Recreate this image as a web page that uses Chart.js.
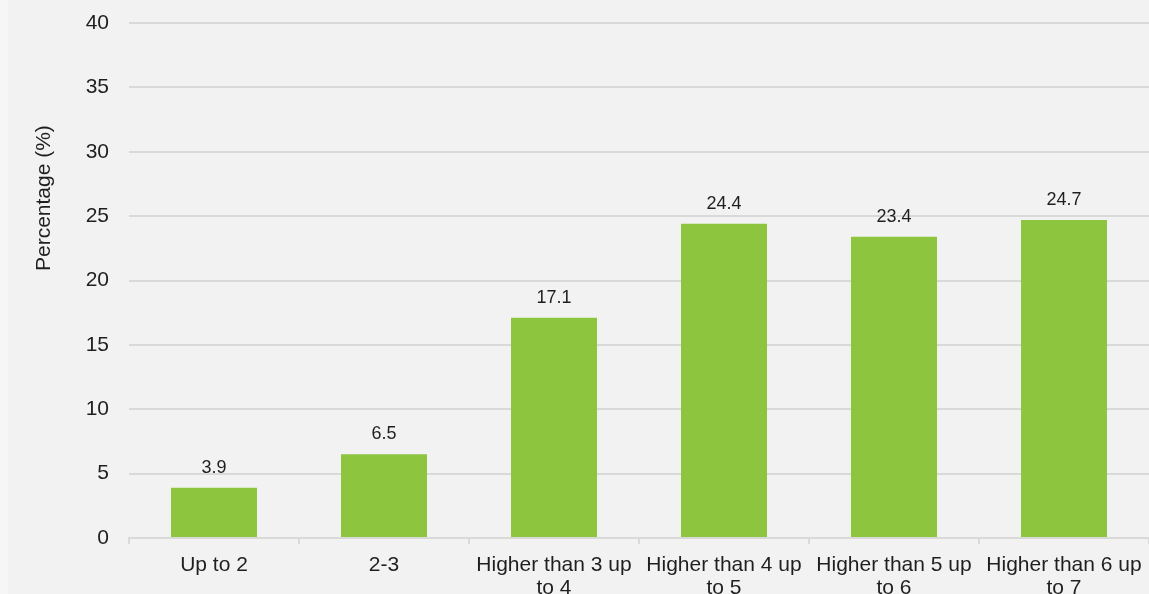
<!DOCTYPE html>
<html lang="en">
<head>
    <meta charset="UTF-8">
    <title>Percentage by category</title>
    <script src="https://cdn.jsdelivr.net/npm/chart.js@4.4.0/dist/chart.umd.min.js"></script>
    <style>
        html, body {
            margin: 0;
            padding: 0;
            background: #f6f6f6;
            overflow: hidden;
        }
        .wrap {
            position: absolute;
            left: 8px;
            top: 0;
            width: 1141px;
            height: 594px;
            background: #f2f2f2;
        }
    </style>
</head>
<body>
    <div class="wrap">
        <canvas id="chart"></canvas>
    </div>

    <script>
        const categories = [
            'Up to 2',
            '2-3',
            ['Higher than 3 up', 'to 4'],
            ['Higher than 4 up', 'to 5'],
            ['Higher than 5 up', 'to 6'],
            ['Higher than 6 up', 'to 7']
        ];
        const percentages = [3.9, 6.5, 17.1, 24.4, 23.4, 24.7];
        const yTicks = [0, 5, 10, 15, 20, 25, 30, 35, 40];

        const FONT = "Arial, 'Liberation Sans', sans-serif";
        const TEXT = '#1f1f1f';
        const GRID = '#d9d9d9';

        // value labels above each bar
        const barLabels = {
            id: 'barLabels',
            afterDatasetsDraw(chart) {
                const ctx = chart.ctx;
                const meta = chart.getDatasetMeta(0);
                ctx.save();
                ctx.font = '18px ' + FONT;
                ctx.fillStyle = TEXT;
                ctx.textAlign = 'center';
                ctx.textBaseline = 'middle';
                meta.data.forEach((bar, i) => {
                    ctx.fillText(percentages[i].toFixed(1), bar.x, bar.y - 20);
                });
                ctx.restore();
            }
        };

        // rotated y axis title, sits above the middle of the axis
        const yTitle = {
            id: 'yTitle',
            afterDraw(chart) {
                const ctx = chart.ctx;
                const area = chart.chartArea;
                ctx.save();
                ctx.translate(36, area.top + (area.bottom - area.top) * 0.34);
                ctx.rotate(-Math.PI / 2);
                ctx.font = '21px ' + FONT;
                ctx.fillStyle = TEXT;
                ctx.textAlign = 'center';
                ctx.textBaseline = 'middle';
                ctx.fillText('Percentage (%)', 0, 0);
                ctx.restore();
            }
        };

        new Chart(document.getElementById('chart'), {
            type: 'bar',
            data: {
                labels: categories,
                datasets: [{
                    data: percentages,
                    backgroundColor: '#8dc53f',
                    barPercentage: 0.506,
                    categoryPercentage: 1
                }]
            },
            options: {
                responsive: true,
                maintainAspectRatio: false,
                animation: false,
                layout: { padding: { top: 23, right: 0, left: 0, bottom: 0 } },
                plugins: {
                    legend: { display: false },
                    tooltip: { enabled: false }
                },
                scales: {
                    x: {
                        grid: {
                            display: true,
                            drawOnChartArea: false,
                            drawTicks: true,
                            tickLength: 6,
                            color: GRID,
                            lineWidth: 2,
                            offset: true
                        },
                        border: { display: true, color: GRID, width: 2 },
                        ticks: {
                            color: TEXT,
                            font: { family: FONT, size: 21, lineHeight: 1.12 },
                            padding: 9,
                            maxRotation: 0,
                            autoSkip: false
                        },
                        afterFit(scale) {
                            scale.height = 56;
                            scale.paddingLeft = 0;
                            scale.paddingRight = 0;
                        }
                    },
                    y: {
                        min: 0,
                        max: 40,
                        afterBuildTicks(scale) {
                            scale.ticks = yTicks.map(v => ({ value: v }));
                        },
                        grid: {
                            color: GRID,
                            lineWidth: 2,
                            drawTicks: false
                        },
                        border: { display: false },
                        ticks: {
                            color: TEXT,
                            font: { family: FONT, size: 21 },
                            padding: 20
                        },
                        afterFit(scale) {
                            scale.width = 121;
                            scale.paddingTop = 0;
                            scale.paddingBottom = 0;
                        }
                    }
                }
            },
            plugins: [barLabels, yTitle]
        });
    </script>
</body>
</html>
